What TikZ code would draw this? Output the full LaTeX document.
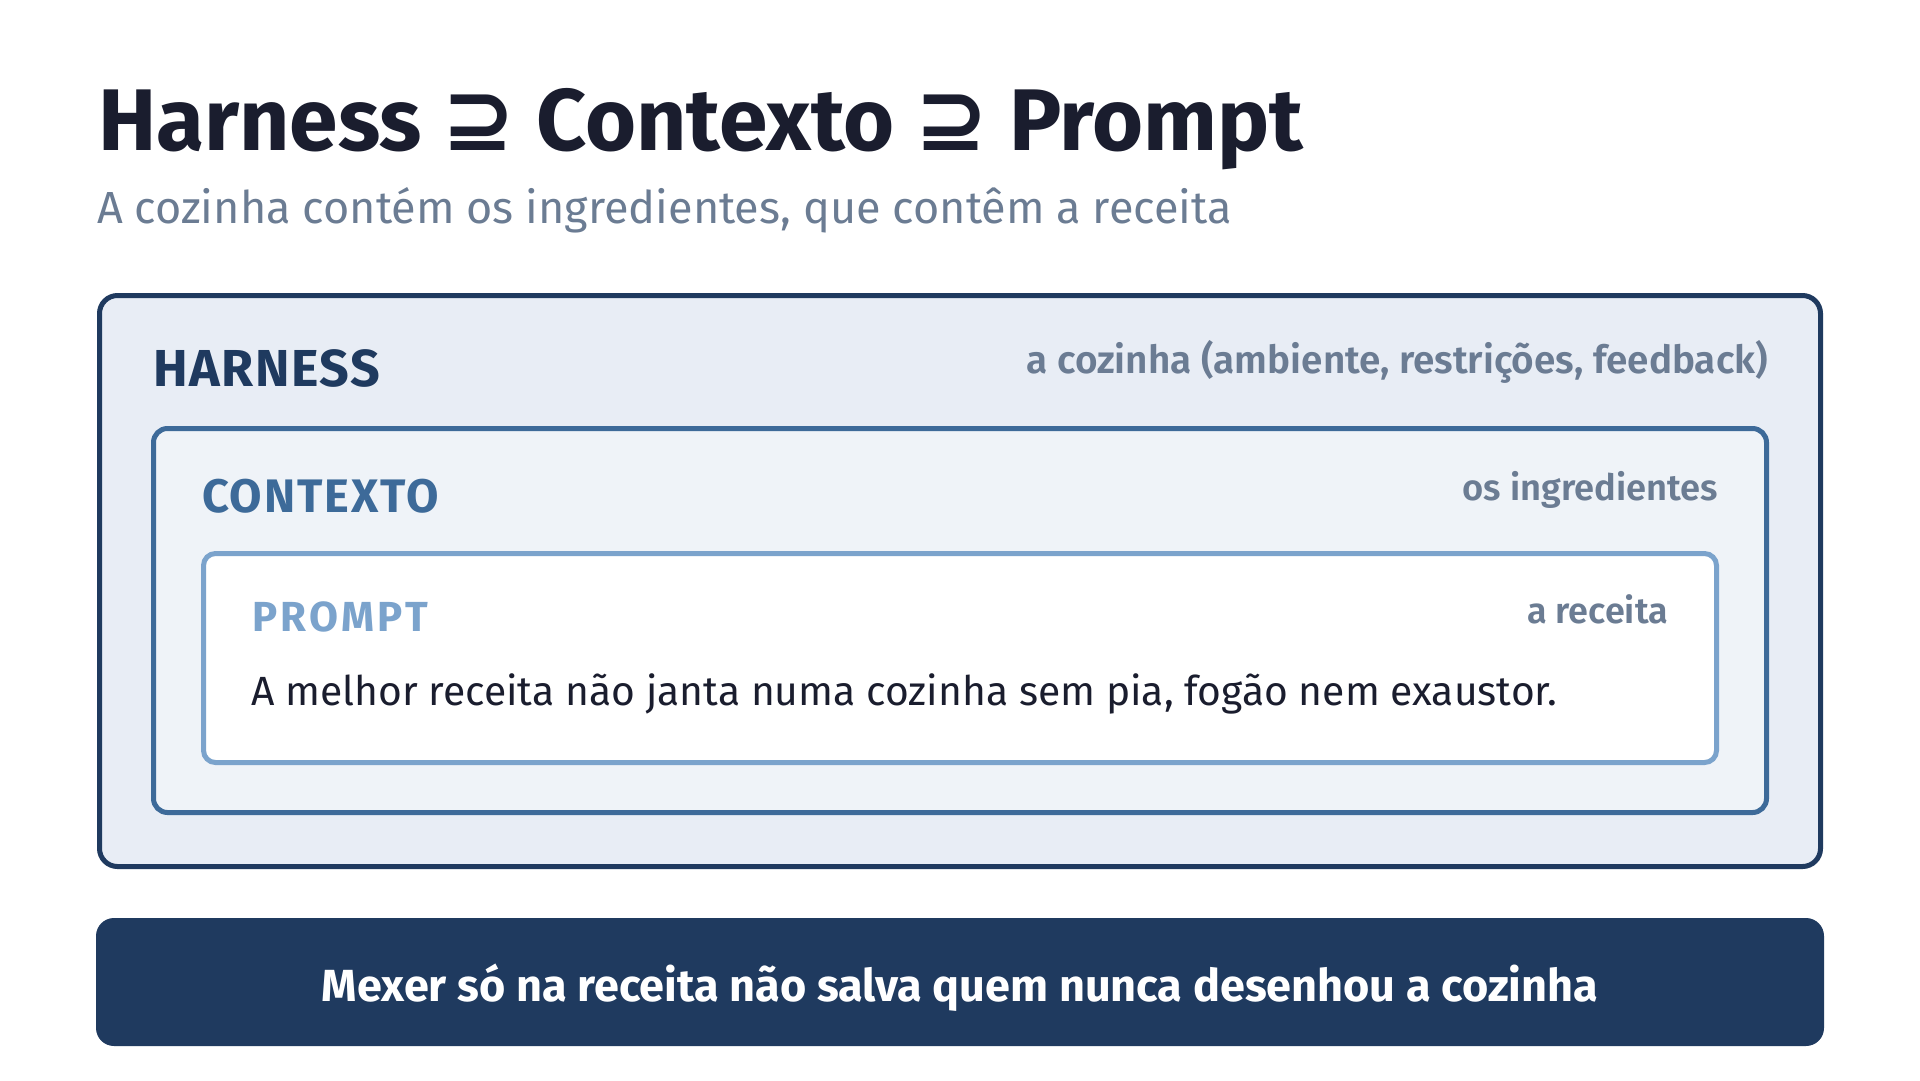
\documentclass[tikz,border=0pt]{standalone}
\usepackage{fontspec}
\setmainfont{Fira Sans}
\newfontfamily\semibold{Fira Sans SemiBold}
\newfontfamily\symbfont{DejaVu Sans}

\definecolor{ink}{HTML}{1A1D2E}
\definecolor{muted}{HTML}{6B7C93}
\definecolor{navy}{HTML}{1F3A5F}
\definecolor{midblue}{HTML}{3D6A99}
\definecolor{lightblue}{HTML}{7BA3CC}
\definecolor{harnessfill}{HTML}{E8EDF5}
\definecolor{contextfill}{HTML}{EFF3F8}

\tikzset{
  layer/.style={draw, line width=5pt, rounded corners=#1},
  tag/.style 2 args={anchor=base west, font=\bfseries\fontsize{#1}{#1}\selectfont\addfontfeatures{LetterSpace=#2}},
  gloss/.style={anchor=base east, text=muted, font=\semibold\fontsize{#1}{#1}\selectfont}
}

\begin{document}
\begin{tikzpicture}[x=1pt,y=-1pt,every node/.style={inner sep=0pt,outer sep=0pt}]
\useasboundingbox[fill=white] (0,0) rectangle (1920,1080);

% title and subtitle
\node[anchor=base west,text=ink,font=\bfseries\fontsize{87.5}{96}\selectfont] (title) at (98,150)
  {Harness {\symbfont\bfseries ⊇} Contexto {\symbfont\bfseries ⊇} Prompt};
\node[anchor=base west,text=muted,font=\fontsize{45}{50}\selectfont] (subtitle) at (97,223)
  {A cozinha contém os ingredientes, que contêm a receita};

% nested layers
\node[layer=18pt,draw=navy,fill=harnessfill,minimum width=1721pt,minimum height=571pt] (harness) at (960,581) {};
\node[layer=14pt,draw=midblue,fill=contextfill,minimum width=1613pt,minimum height=384pt] (contexto) at (960,620.5) {};
\node[layer=12pt,draw=lightblue,fill=white,minimum width=1513pt,minimum height=209pt] (prompt) at (960,658) {};

\node[tag={52}{3},text=navy] (harnesstag) at (153,386) {HARNESS};
\node[gloss=38.7] (harnessgloss) at (1768,373) {a cozinha (ambiente, restrições, feedback)};

\node[tag={47}{4},text=midblue] (contextotag) at (202,512) {CONTEXTO};
\node[gloss=36.3] (contextogloss) at (1718,500) {os ingredientes};

\node[tag={42}{8},text=lightblue] (prompttag) at (252,631) {PROMPT};
\node[gloss=36] (promptgloss) at (1668,623) {a receita};
\node[anchor=base west,text=ink,font=\fontsize{40.8}{46}\selectfont] (recipe) at (251,705)
  {A melhor receita não janta numa cozinha sem pia, fogão nem exaustor.};

% bottom banner
\node[fill=navy,rounded corners=18pt,minimum width=1728pt,minimum height=128pt] (banner) at (960,982) {};
\node[anchor=base,text=white,font=\bfseries\fontsize{45}{50}\selectfont] (moral) at (960,1001)
  {Mexer só na receita não salva quem nunca desenhou a cozinha};
\end{tikzpicture}
\end{document}
